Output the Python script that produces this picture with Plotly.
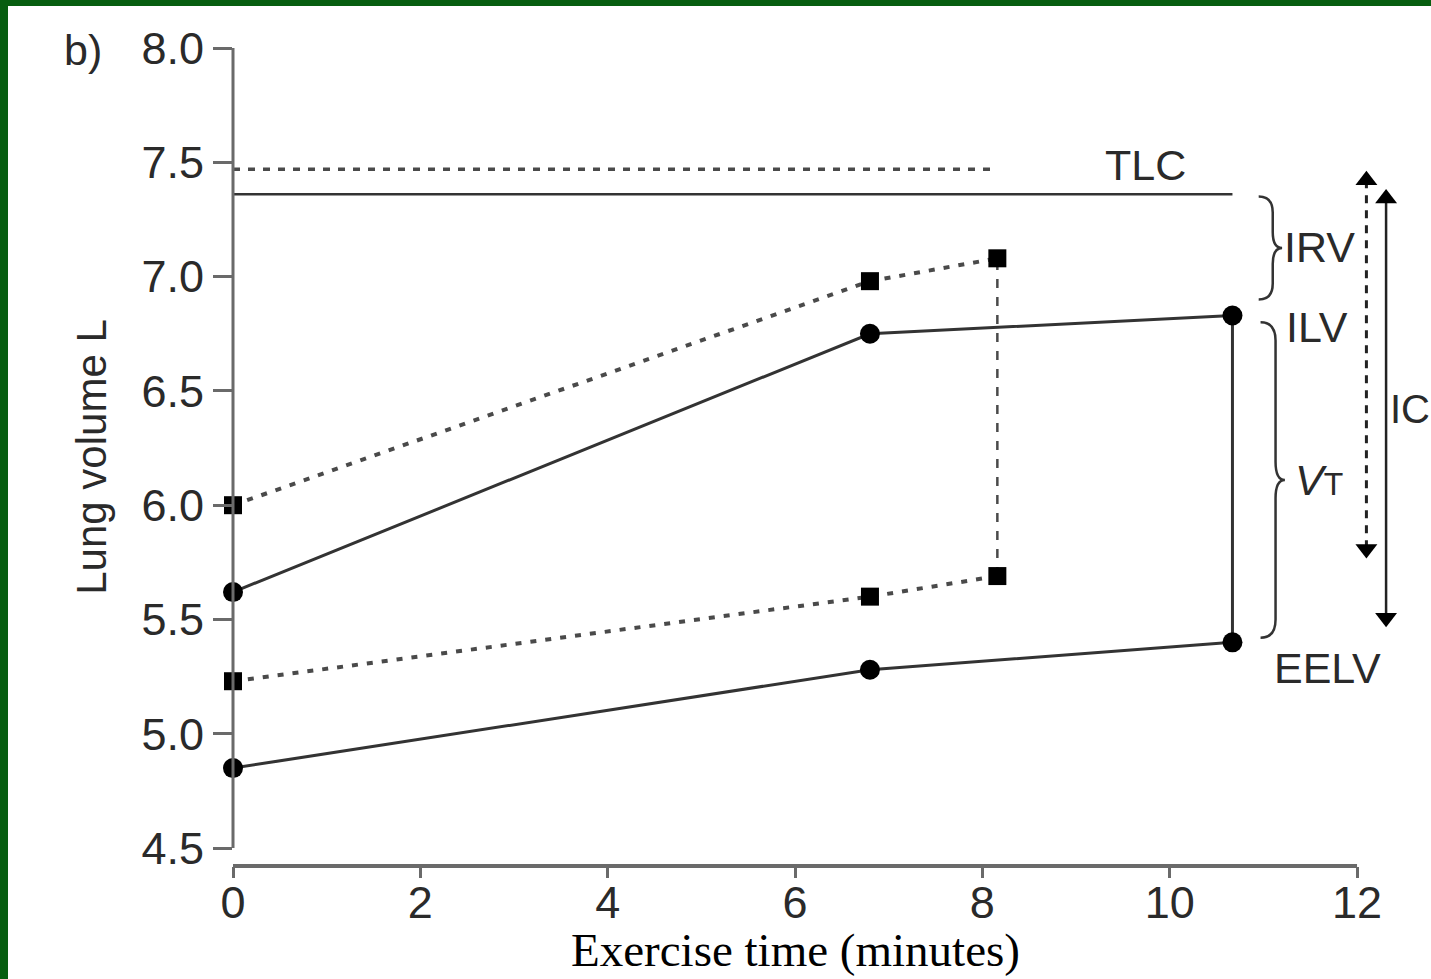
import plotly.graph_objects as go

# Exercise time (minutes) at each measurement
time_dashed = [0, 6.8, 8.16]
time_solid = [0, 6.8, 10.67]

# Inspiratory (ILV) and end-expiratory (EELV) lung volumes, L
ilv_dashed = [6.0, 6.98, 7.08]
eelv_dashed = [5.23, 5.60, 5.69]
ilv_solid = [5.62, 6.75, 6.83]
eelv_solid = [4.85, 5.28, 5.40]

# Total lung capacity, L
tlc_dashed = 7.47
tlc_solid = 7.36

# Inspiratory capacity arrows (top, bottom), L
ic_dashed = [7.47, 5.76]
ic_solid = [7.39, 5.46]

y_ticks = [4.5, 5.0, 5.5, 6.0, 6.5, 7.0, 7.5, 8.0]
x_ticks = [0, 2, 4, 6, 8, 10, 12]

# ---- page geometry -------------------------------------------------------
W, H = 1431, 979
ML, MR, MT, MB = 233, 0, 48, 113
PW, PH = W - ML - MR, H - MT - MB
PX_PER_MIN = 93.67
PX_PER_L = 228.6
x_range = [0, PW / PX_PER_MIN]
y_range = [8.0 - PH / PX_PER_L, 8.0]

LINE = "#333333"
DASH = "#4a4a4a"
AXIS = "#6a6a6a"
TEXT = "#2a2a2a"
SANS = "Liberation Sans Narrow, Arial Narrow, Liberation Sans, Arial"
SERIF = "Liberation Serif, Times New Roman, serif"

fig = go.Figure()

# TLC reference lines
fig.add_trace(go.Scatter(x=[0, time_dashed[-1]], y=[tlc_dashed, tlc_dashed], mode="lines",
                         line=dict(color=DASH, width=3.5, dash="7px,8px"), hoverinfo="skip"))
fig.add_trace(go.Scatter(x=[0, time_solid[-1]], y=[tlc_solid, tlc_solid], mode="lines",
                         line=dict(color=LINE, width=2.5), hoverinfo="skip"))

# end-of-exercise tidal excursion
fig.add_trace(go.Scatter(x=[time_dashed[-1]] * 2, y=[eelv_dashed[-1], ilv_dashed[-1]], mode="lines",
                         line=dict(color=DASH, width=2.5, dash="9px,9px"), hoverinfo="skip"))
fig.add_trace(go.Scatter(x=[time_solid[-1]] * 2, y=[eelv_solid[-1], ilv_solid[-1]], mode="lines",
                         line=dict(color=LINE, width=3), hoverinfo="skip"))

# dashed series with square markers
for ys in (ilv_dashed, eelv_dashed):
    fig.add_trace(go.Scatter(x=time_dashed, y=ys, mode="lines+markers", cliponaxis=False,
                             line=dict(color=DASH, width=4, dash="6px,9px"),
                             marker=dict(symbol="square", size=18, color="black"), hoverinfo="skip"))

# solid series with circle markers
for ys in (ilv_solid, eelv_solid):
    fig.add_trace(go.Scatter(x=time_solid, y=ys, mode="lines+markers", cliponaxis=False,
                             line=dict(color=LINE, width=3),
                             marker=dict(symbol="circle", size=20, color="black"), hoverinfo="skip"))

# IC double arrows
head_off = 11 / PX_PER_L
for xpos, (top, bot), dash in ((12.1, ic_dashed, "8px,7px"), (12.31, ic_solid, "solid")):
    fig.add_trace(go.Scatter(x=[xpos, xpos], y=[top - head_off, bot + head_off], mode="lines",
                             line=dict(color="#222", width=3 if dash != "solid" else 2.5, dash=dash),
                             hoverinfo="skip"))
    fig.add_trace(go.Scatter(x=[xpos, xpos], y=[top - head_off, bot + head_off], mode="markers",
                             marker=dict(symbol=["triangle-up", "triangle-down"], size=19, color="black"),
                             hoverinfo="skip"))

shapes = []
# axis lines (offset style: y axis stops at 4.5)
shapes.append(dict(type="line", xref="paper", yref="y", x0=0, x1=0, y0=y_ticks[0], y1=y_ticks[-1],
                   line=dict(color=AXIS, width=3)))
shapes.append(dict(type="line", xref="x", yref="paper", x0=x_ticks[0], x1=x_ticks[-1], y0=0, y1=0,
                   line=dict(color=AXIS, width=4)))


def brace(y_top, y_bot, xa, xb, xc, r):
    ym = (y_top + y_bot) / 2
    return (f"M {xa},{y_top} Q {xb},{y_top} {xb},{y_top - r} L {xb},{ym + r} "
            f"Q {xb},{ym} {xc},{ym} Q {xb},{ym} {xb},{ym - r} L {xb},{y_bot + r} "
            f"Q {xb},{y_bot} {xa},{y_bot}")


shapes.append(dict(type="path", xref="x", yref="y", path=brace(7.35, 6.90, 10.95, 11.1, 11.2, 0.07),
                   line=dict(color=LINE, width=2.5)))
shapes.append(dict(type="path", xref="x", yref="y", path=brace(6.80, 5.42, 10.97, 11.13, 11.23, 0.08),
                   line=dict(color=LINE, width=2.5)))

# green frame along the top and left edges
def px_x(p):
    return (p - ML) / PW


def px_y(p):
    return (H - MB - p) / PH


GREEN = "#075e10"
shapes.append(dict(type="rect", xref="paper", yref="paper", x0=px_x(0), x1=px_x(W), y0=px_y(0), y1=px_y(6),
                   fillcolor=GREEN, line=dict(width=0), layer="above"))
shapes.append(dict(type="rect", xref="paper", yref="paper", x0=px_x(0), x1=px_x(8), y0=px_y(0), y1=px_y(H),
                   fillcolor=GREEN, line=dict(width=0), layer="above"))

lab = dict(family=SANS, size=43, color=TEXT)
annotations = [
    dict(x=px_x(83), y=px_y(50), xref="paper", yref="paper", text="b)", showarrow=False, font=lab,
         xanchor="center", yanchor="middle"),
    dict(x=(1145 - ML) / PX_PER_MIN, y=7.49, text="TLC", showarrow=False, font=lab,
         xanchor="center", yanchor="middle"),
    dict(x=11.2, y=7.13, text="IRV", showarrow=False, font=lab, xanchor="left", yanchor="middle"),
    dict(x=11.22, y=6.78, text="ILV", showarrow=False, font=lab, xanchor="left", yanchor="middle"),
    dict(x=11.32, y=6.11, text="<i>V</i><span style='font-size:32px'>T</span>", showarrow=False,
         font=lab, xanchor="left", yanchor="middle"),
    dict(x=11.68, y=5.29, text="EELV", showarrow=False, font=lab, xanchor="center", yanchor="middle"),
    dict(x=12.33, y=6.42, text="IC", showarrow=False, font=dict(family=SANS, size=40, color=TEXT),
         xanchor="left", yanchor="middle"),
    dict(x=6.0, y=px_y(950), yref="paper", text="Exercise time (minutes)", showarrow=False,
         font=dict(family=SERIF, size=47, color="black"), xanchor="center", yanchor="middle"),
]

fig.update_layout(
    width=W, height=H,
    margin=dict(l=ML, r=MR, t=MT, b=MB, pad=0),
    paper_bgcolor="white", plot_bgcolor="white",
    showlegend=False,
    shapes=shapes,
    annotations=annotations,
    xaxis=dict(range=x_range, tickvals=x_ticks, ticktext=[str(v) for v in x_ticks],
               showgrid=False, zeroline=False, showline=False,
               ticks="outside", ticklen=11, tickwidth=3, tickcolor=AXIS, ticklabelstandoff=-14,
               tickfont=dict(family=SANS, size=45, color=TEXT), fixedrange=True),
    yaxis=dict(range=y_range, tickvals=y_ticks, ticktext=[f"{v:.1f}" for v in y_ticks],
               showgrid=False, zeroline=False, showline=False,
               ticks="outside", ticklen=19, tickwidth=3, tickcolor=AXIS,
               tickfont=dict(family=SANS, size=45, color=TEXT), fixedrange=True,
               title=dict(text="Lung volume L", font=dict(family=SANS, size=42, color=TEXT), standoff=21)),
)

fig.write_html("out.html")
